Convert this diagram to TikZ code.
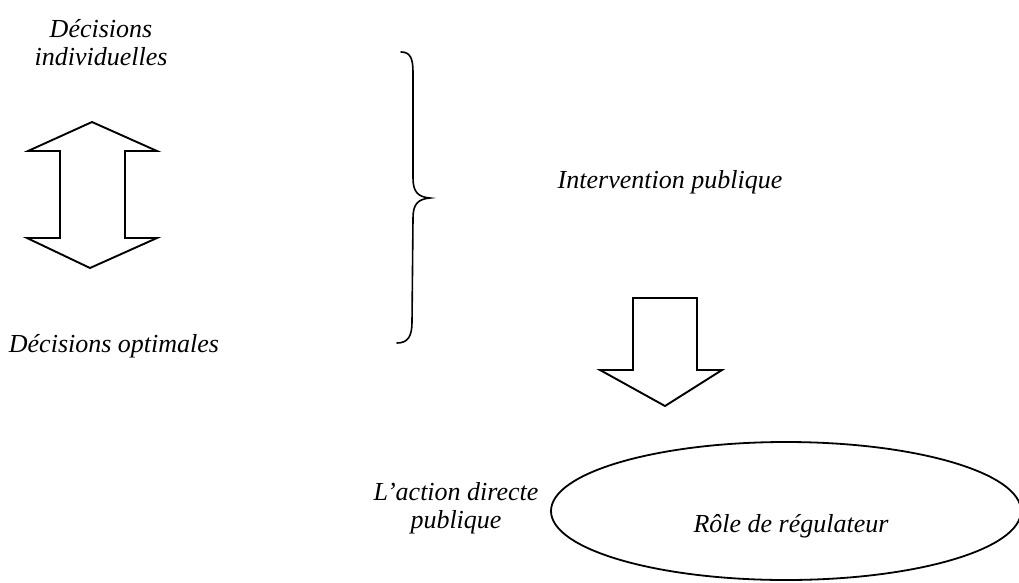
\documentclass[tikz,border=0pt]{standalone}
\usepackage{fontspec}
\setmainfont{Liberation Serif}
\begin{document}
\begin{tikzpicture}[x=1pt,y=-1pt,
  lbl/.style={font=\fontsize{26}{28}\selectfont\itshape, align=center, inner sep=0pt, anchor=base},
  outline/.style={line width=1.9pt, line join=miter}]
\clip (0,0) rectangle (1019,582);
\useasboundingbox (0,0) rectangle (1019,582);

% texts (multi-line nodes are placed by the baseline of their last line)
\node[lbl] (indiv) at (101,65) {Décisions\\individuelles};
\node[lbl] (optim) at (114,352) {Décisions optimales};
\node[lbl] (interv) at (670,188) {Intervention publique};
\node[lbl] (action) at (456,528) {L'action directe\\publique};
\node[lbl] (regul) at (791,532) {Rôle de régulateur};

% two-way arrow between individual and optimal decisions
\draw[outline] (92,122) -- (157,151) -- (125,151) -- (125,238) -- (157,238)
  -- (90,268) -- (27,238) -- (60,238) -- (60,151) -- (28,151) -- cycle;

% brace grouping both kinds of decision
\draw[line width=1.6pt, line cap=round]
  (401,52) .. controls (410,52) and (413,58) .. (413,72)
  -- (413,178) .. controls (413,192) and (418,197) .. (430,198)
  .. controls (418,199) and (413,204) .. (413,218)
  -- (412,322) .. controls (412,336) and (408,343) .. (397,343);

% downward arrow towards the regulating role
\draw[outline] (633,298) -- (697,298) -- (697,370) -- (722,370) -- (665,406)
  -- (600,370) -- (633,370) -- cycle;

% ellipse around the regulating role
\draw[line width=1.8pt] (786,511) ellipse [x radius=235, y radius=69];
\end{tikzpicture}
\end{document}
